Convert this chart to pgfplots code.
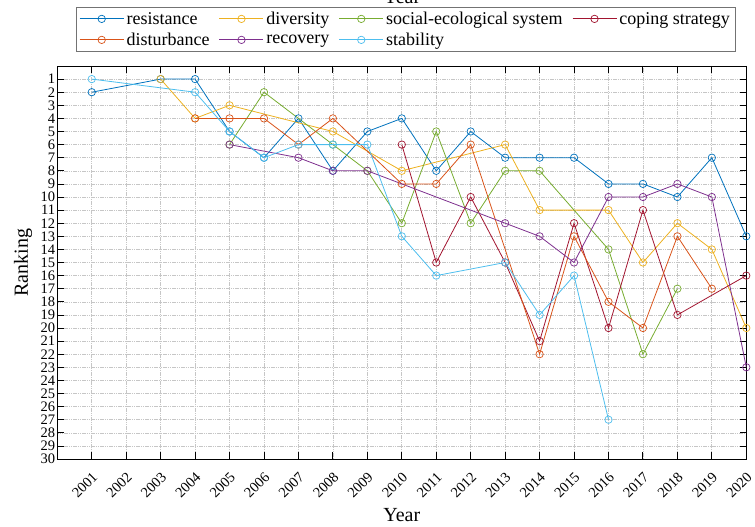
\documentclass[border=0pt]{standalone}
\usepackage{pgfplots}
\pgfplotsset{compat=1.18}
\usepackage{fontspec}
\setmainfont{Liberation Serif}
\definecolor{cB}{RGB}{0,114,189}
\definecolor{cO}{RGB}{217,83,25}
\definecolor{cY}{RGB}{237,177,32}
\definecolor{cP}{RGB}{126,47,142}
\definecolor{cG}{RGB}{119,172,48}
\definecolor{cL}{RGB}{77,190,238}
\definecolor{cR}{RGB}{162,20,47}
\begin{document}
\begin{tikzpicture}
\node[anchor=base,font=\fontsize{20}{24}\selectfont] at (344.5pt,455pt) {Year};
\begin{axis}[
  at={(0pt,0pt)}, anchor=south west,
  scale only axis, width=689pt, height=393pt,
  xmin=2000, xmax=2020, ymin=0, ymax=30,
  y dir=reverse,
  xtick={2001,...,2020}, ytick={1,...,30},
  /pgf/number format/1000 sep={},
  /pgf/number format/assume math mode=true,
  tick align=inside,
  major tick length=6.7pt,
  tick style={black, line width=0.8pt},
  axis line style={black, line width=0.9pt},
  grid=major,
  major grid style={gray!45, line width=0.6pt, dash pattern=on 1.5pt off 0.75pt},
  ticklabel style={font=\fontsize{14.5}{15}\selectfont},
  yticklabel style={inner sep=2pt},
  xticklabel style={xshift=4pt, yshift=-15pt, rotate=45, anchor=east, inner sep=1pt},
  xlabel={Year}, ylabel={Ranking},
  label style={font=\fontsize{20}{24}\selectfont},
  xlabel style={at={(axis description cs:0.5,-0.1417)}, anchor=center},
  ylabel style={at={(axis description cs:-0.0498,0.5)}, anchor=center},
  every axis plot/.append style={line width=0.8pt, mark=o, mark size=3.7pt, mark options={solid, line width=0.7pt}},
  legend style={at={(axis description cs:0.0271,1.150)}, anchor=north west,
    draw=black!55, line width=0.7pt, fill=white,
    font=\fontsize{18}{20}\selectfont,
    /tikz/every even column/.append style={column sep=7pt},
    row sep=2pt,
    inner xsep=3pt, inner ysep=2pt, nodes={inner sep=2.5pt}},
  legend columns=4,
  legend cell align=left,
  legend image code/.code={\draw[mark repeat=2,mark phase=2] plot coordinates {(0pt,0pt)(22pt,0pt)(44pt,0pt)};},
]
\addplot[cB] coordinates {(2001,2)(2003,1)(2004,1)(2005,5)(2006,7)(2007,4)(2008,8)(2009,5)(2010,4)(2011,8)(2012,5)(2013,7)(2014,7)(2015,7)(2016,9)(2017,9)(2018,10)(2019,7)(2020,13)};
\addlegendentry{resistance}
\addplot[cY] coordinates {(2003,1)(2004,4)(2005,3)(2008,5)(2010,8)(2013,6)(2014,11)(2016,11)(2017,15)(2018,12)(2019,14)(2020,20)};
\addlegendentry{diversity}
\addplot[cG] coordinates {(2005,6)(2006,2)(2008,6)(2009,8)(2010,12)(2011,5)(2012,12)(2013,8)(2014,8)(2016,14)(2017,22)(2018,17)};
\addlegendentry{social-ecological system}
\addplot[cR] coordinates {(2010,6)(2011,15)(2012,10)(2013,15)(2014,21)(2015,12)(2016,20)(2017,11)(2018,19)(2020,16)};
\addlegendentry{coping strategy}
\addplot[cO] coordinates {(2004,4)(2005,4)(2006,4)(2007,6)(2008,4)(2010,9)(2011,9)(2012,6)(2014,22)(2015,13)(2016,18)(2017,20)(2018,13)(2019,17)};
\addlegendentry{disturbance}
\addplot[cP] coordinates {(2005,6)(2007,7)(2008,8)(2009,8)(2013,12)(2014,13)(2015,15)(2016,10)(2017,10)(2018,9)(2019,10)(2020,23)};
\addlegendentry{recovery}
\addplot[cL] coordinates {(2001,1)(2004,2)(2005,5)(2006,7)(2007,6)(2008,6)(2009,6)(2010,13)(2011,16)(2013,15)(2014,19)(2015,16)(2016,27)};
\addlegendentry{stability}
\end{axis}
\pgfresetboundingbox
\path[use as bounding box] (-57.3pt,-67.7pt) rectangle (697.7pt,459pt);
\end{tikzpicture}
\end{document}
